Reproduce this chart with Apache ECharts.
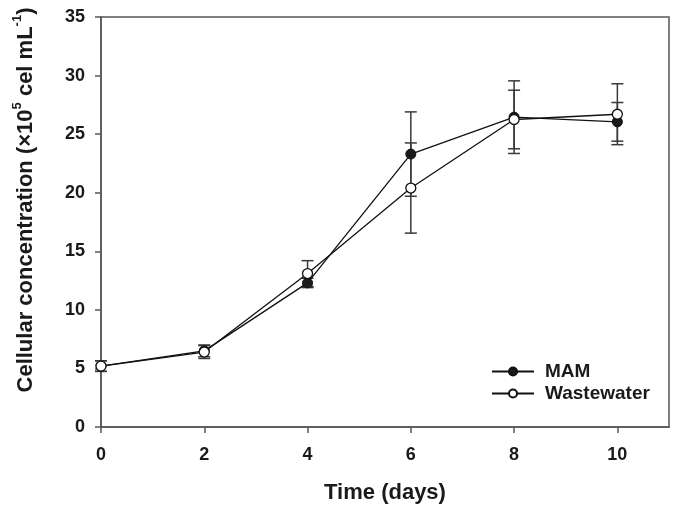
<!DOCTYPE html>
<html>
<head>
<meta charset="utf-8">
<script src="https://cdn.jsdelivr.net/npm/echarts@6/dist/echarts.min.js"></script>
<style>html,body{margin:0;padding:0;background:#fff}#c{width:675px;height:509px}</style>
</head>
<body>
<div id="c"></div>
<script>
var days = [0, 2, 4, 6, 8, 10];
var xTicks = [0, 2, 4, 6, 8, 10];
var yTicks = [0, 5, 10, 15, 20, 25, 30, 35];
var mamValues = [5.2, 6.5, 12.3, 23.3, 26.45, 26.05];
var mamErrors = [0.45, 0.5, 0.4, 3.6, 3.1, 1.65];
var wwValues = [5.2, 6.4, 13.1, 20.4, 26.25, 26.7];
var wwErrors = [0.45, 0.55, 1.1, 3.85, 2.5, 2.6];

var FONT = '"Liberation Sans", Arial, sans-serif';
var AX = '#555555';

function pairs(vals) { return days.map(function (d, i) { return [d, vals[i]]; }); }
function errData(vals, errs) { return days.map(function (d, i) { return [d, vals[i] - errs[i], vals[i] + errs[i]]; }); }

function errRender(params, api) {
  var x = api.value(0);
  var lo = api.coord([x, api.value(1)]);
  var hi = api.coord([x, api.value(2)]);
  var hw = 6;
  var st = { stroke: '#3a3a3a', lineWidth: 1.5 };
  return {
    type: 'group',
    children: [
      { type: 'line', shape: { x1: lo[0], y1: lo[1], x2: hi[0], y2: hi[1] }, style: st },
      { type: 'line', shape: { x1: lo[0] - hw, y1: lo[1], x2: lo[0] + hw, y2: lo[1] }, style: st },
      { type: 'line', shape: { x1: hi[0] - hw, y1: hi[1], x2: hi[0] + hw, y2: hi[1] }, style: st }
    ]
  };
}

var chart = echarts.init(document.getElementById('c'), null, { renderer: 'canvas' });
chart.setOption({
  animation: false,
  backgroundColor: '#fff',
  textStyle: { fontFamily: FONT },
  grid: { left: 101, right: 6, top: 17, bottom: 82, show: true, borderColor: AX, borderWidth: 1.5 },
  legend: {
    left: 486, top: 357, orient: 'vertical', itemWidth: 42, itemHeight: 10, itemGap: 3,
    textStyle: { fontFamily: FONT, fontWeight: 'bold', fontSize: 19, color: '#1a1a1a', padding: [0, 0, 0, 6] },
    data: ['MAM', 'Wastewater']
  },
  xAxis: {
    type: 'value', min: 0, max: 11,
    name: 'Time (days)', nameLocation: 'middle', nameGap: 55,
    nameTextStyle: { fontFamily: FONT, fontWeight: 'bold', fontSize: 22, color: '#1a1a1a' },
    axisLine: { show: true, onZero: false, lineStyle: { color: AX, width: 1.5 } },
    axisTick: { show: true, inside: false, length: 6, lineStyle: { color: AX, width: 1.5 }, customValues: xTicks },
    axisLabel: { margin: 19, fontFamily: FONT, fontWeight: 'bold', fontSize: 18, color: '#1a1a1a', customValues: xTicks },
    splitLine: { show: false }
  },
  yAxis: {
    type: 'value', min: 0, max: 35, interval: 5,
    name: '{a|Cellular concentration (×10}{s|5}{a| cel mL}{s|-1}{a|)}',
    nameLocation: 'middle', nameGap: 64, nameRotate: 90,
    nameTextStyle: {
      padding: [0, 0, 0, 44],
      rich: {
        a: { fontFamily: FONT, fontWeight: 'bold', fontSize: 22, color: '#1a1a1a', verticalAlign: 'bottom', lineHeight: 26 },
        s: { fontFamily: FONT, fontWeight: 'bold', fontSize: 13, color: '#1a1a1a', verticalAlign: 'top', lineHeight: 26 }
      }
    },
    axisLine: { show: true, onZero: false, lineStyle: { color: AX, width: 1.5 } },
    axisTick: { show: true, inside: false, length: 6, lineStyle: { color: AX, width: 1.5 }, customValues: yTicks },
    axisLabel: { margin: 16, fontFamily: FONT, fontWeight: 'bold', fontSize: 18, color: '#1a1a1a', customValues: yTicks },
    splitLine: { show: false }
  },
  series: [
    { type: 'custom', name: 'mamErr', renderItem: errRender, data: errData(mamValues, mamErrors), z: 1, silent: true, encode: { x: 0, y: [1, 2] } },
    { type: 'custom', name: 'wwErr', renderItem: errRender, data: errData(wwValues, wwErrors), z: 1, silent: true, encode: { x: 0, y: [1, 2] } },
    {
      type: 'line', name: 'MAM', data: pairs(mamValues), z: 3,
      symbol: 'circle', symbolSize: 10, showAllSymbol: true,
      lineStyle: { color: '#111', width: 1.3 },
      itemStyle: { color: '#1a1a1a', borderColor: '#111', borderWidth: 1 }
    },
    {
      type: 'line', name: 'Wastewater', data: pairs(wwValues), z: 4,
      symbol: 'circle', symbolSize: 10, showAllSymbol: true,
      lineStyle: { color: '#111', width: 1.3 },
      itemStyle: { color: '#fff', borderColor: '#111', borderWidth: 1.3 }
    }
  ]
});
</script>
</body>
</html>
